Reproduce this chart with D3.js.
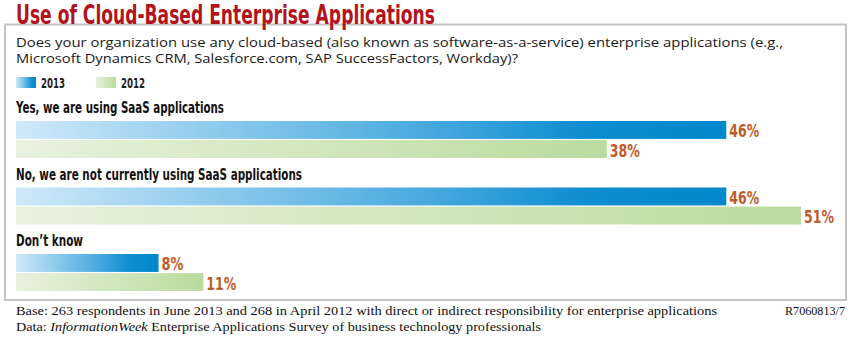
<!DOCTYPE html>
<html>
<head>
<meta charset="utf-8">
<script src="https://cdn.jsdelivr.net/npm/d3@7"></script>
<style>
body{margin:0;background:#fff;}
.cond{font-family:"Liberation Sans Narrow","DejaVu Sans Condensed","Roboto",sans-serif;font-weight:bold;font-stretch:condensed;}
</style>
</head>
<body>
<svg id="chart" width="857" height="353"></svg>
<script>
// data
var categories=["Yes, we are using SaaS applications","No, we are not currently using SaaS applications","Don\u2019t know"];
var years=["2013","2012"];
var values2013=[46,46,8];
var values2012=[38,51,11];
var labelWidths=[208,286,67];

var width=857, height=353;
var svg=d3.select("#chart");

// gradients
var defs=svg.append("defs");
var gradStops={
  "2013":[["0","#cfe9f9"],["0.55","#4fadE0"],["0.8","#0f8dd1"],["1","#0088cc"]],
  "2012":[["0","#e8f2df"],["1","#badb9d"]]
};
years.forEach(function(y){
  var g=defs.append("linearGradient").attr("id","g"+y)
    .attr("x1","0").attr("x2","1").attr("y1","0").attr("y2","0");
  g.selectAll("stop").data(gradStops[y]).enter().append("stop")
    .attr("offset",function(d){return d[0];})
    .attr("stop-color",function(d){return d[1];});
});

// frame
svg.append("rect")
.attr("x",5).attr("y",24.5).attr("width",841).attr("height",275.5)
.attr("fill","none").attr("stroke","#c4c4c4").attr("stroke-width",2);

// title
svg.append("text").attr("class","cond")
.attr("x",16).attr("y",24)
.attr("font-size",27)
.attr("fill","#b3131c")
.attr("textLength",419).attr("lengthAdjust","spacingAndGlyphs")
.text("Use of Cloud-Based Enterprise Applications");

// question
var qLines=[["Does your organization use any cloud-based (also known as software-as-a-service) enterprise applications (e.g.,",767],
["Microsoft Dynamics CRM, Salesforce.com, SAP SuccessFactors, Workday)?",502]];
svg.selectAll(".q").data(qLines).enter().append("text")
.attr("class","q")
.attr("x",16).attr("y",function(d,i){return 47+i*16;})
.attr("font-family","'Open Sans','Noto Sans',sans-serif")
.attr("font-size",13.5)
.attr("fill","#1a1a1a")
.attr("textLength",function(d){return d[1];}).attr("lengthAdjust","spacingAndGlyphs")
.text(function(d){return d[0];});

// legend
var legend=svg.selectAll(".leg").data(years).enter().append("g")
.attr("transform",function(d,i){return "translate("+(16+i*80)+",77)";});
legend.append("rect").attr("width",20).attr("height",11)
.attr("fill",function(d){return "url(#g"+d+")";});
legend.append("text").attr("class","cond")
.attr("x",25).attr("y",11).attr("font-size",14.5).attr("fill","#1a1a1a")
.attr("textLength",24).attr("lengthAdjust","spacingAndGlyphs")
.text(function(d){return d;});

// scales
var x=d3.scaleLinear().domain([0,51]).range([39,801]);
var y=d3.scaleBand().domain(categories).range([121,121+3*66.5]);
var ySub=d3.scaleBand().domain(years).range([0,37]).paddingInner(0.06);

var groups=svg.selectAll(".grp").data(categories).enter().append("g")
.attr("transform",function(d){return "translate(0,"+y(d)+")";});

groups.append("text").attr("class","cond")
.attr("x",16).attr("y",-8)
.attr("font-size",16).attr("fill","#111")
.attr("textLength",function(d,i){return labelWidths[i];}).attr("lengthAdjust","spacingAndGlyphs")
.text(function(d){return d;});

var bars=groups.selectAll(".bar").data(function(d,i){
  return [{year:"2013",v:values2013[i]},{year:"2012",v:values2012[i]}];
}).enter().append("g");

bars.append("rect")
.attr("x",16)
.attr("y",function(d){return ySub(d.year);})
.attr("width",function(d){return x(d.v)-16;})
.attr("height",ySub.bandwidth())
.attr("fill",function(d){return "url(#g"+d.year+")";});

bars.append("text").attr("class","cond")
.attr("x",function(d){return x(d.v)+3;})
.attr("y",function(d){return ySub(d.year)+ySub.bandwidth()-1.5;})
.attr("font-size",18).attr("fill","#bf5b2a")
.attr("textLength",function(d){return d.v>=10?30:22;}).attr("lengthAdjust","spacingAndGlyphs")
.text(function(d){return d.v+"%";});

// footer
svg.append("text")
.attr("x",16).attr("y",315)
.attr("font-family","'Liberation Serif','DejaVu Serif',serif")
.attr("font-size",13.5).attr("fill","#111")
.attr("textLength",701).attr("lengthAdjust","spacingAndGlyphs")
.text("Base: 263 respondents in June 2013 and 268 in April 2012 with direct or indirect responsibility for enterprise applications");
svg.append("text")
.attr("x",845).attr("y",315).attr("text-anchor","end")
.attr("font-family","'Liberation Serif','DejaVu Serif',serif")
.attr("font-size",13.5).attr("fill","#111")
.attr("textLength",60).attr("lengthAdjust","spacingAndGlyphs")
.text("R7060813/7");
var d2=svg.append("text")
.attr("x",16).attr("y",331)
.attr("font-family","'Liberation Serif','DejaVu Serif',serif")
.attr("font-size",13.5).attr("fill","#111")
.attr("textLength",525).attr("lengthAdjust","spacingAndGlyphs");
d2.append("tspan").text("Data: ");
d2.append("tspan").attr("font-style","italic").text("InformationWeek");
d2.append("tspan").text(" Enterprise Applications Survey of business technology professionals");
</script>
</body>
</html>
